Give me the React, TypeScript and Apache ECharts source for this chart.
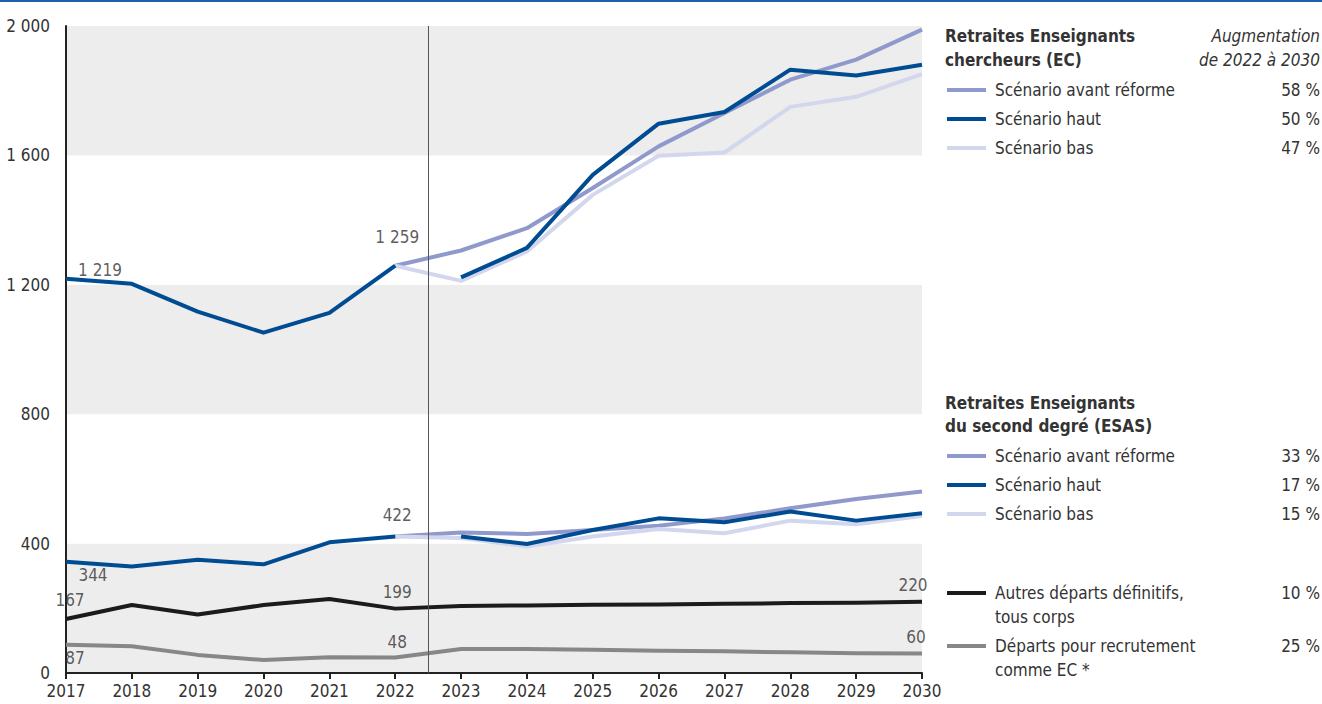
import React, { useEffect, useRef } from "react";
import * as echarts from "echarts";

const years = [2017, 2018, 2019, 2020, 2021, 2022, 2023, 2024, 2025, 2026, 2027, 2028, 2029, 2030];
const constatYears = years.slice(0, 6);
const forecastYears = years.slice(5);

// EC
const ecConstat = [1219, 1203, 1117, 1052, 1113, 1259];
const ecAvant = [1259, 1306, 1375, 1499, 1628, 1731, 1834, 1896, 1989];
const ecHaut = [1259, 1223, 1314, 1540, 1698, 1734, 1865, 1847, 1880];
const ecBas = [1259, 1212, 1303, 1478, 1599, 1609, 1750, 1781, 1851];
// ESAS
const esasConstat = [344, 329, 350, 336, 404, 422];
const esasAvant = [422, 434, 430, 442, 455, 478, 509, 538, 561];
const esasHaut = [422, 422, 399, 442, 478, 466, 499, 471, 494];
const esasBas = [422, 417, 391, 422, 445, 432, 471, 460, 485];
// others
const autres = [167, 210, 181, 210, 229, 199, 207, 209, 211, 212, 214, 216, 217, 220];
const recrutement = [87, 83, 56, 40, 49, 48, 74, 74, 72, 69, 67, 64, 61, 60];

const yTicks = [0, 400, 800, 1200, 1600, 2000];

const legendEC = ["Scénario avant réforme", "Scénario haut", "Scénario bas"];
const pctEC = ["58 %", "50 %", "47 %"];
const legendESAS = ["Scénario avant réforme", "Scénario haut", "Scénario bas"];
const pctESAS = ["33 %", "17 %", "15 %"];
const legendOther = [["Autres départs définitifs,", "tous corps"], ["Départs pour recrutement", "comme EC *"]];
const pctOther = ["10 %", "25 %"];

const C_HAUT = "#004c93";
const C_AVANT = "#8f99cb";
const C_BAS = "#d3d7ed";
const C_AUTRES = "#1b1b1b";
const C_RECR = "#878787";
const TXT = "#333333";
const FONT = "'Liberation Sans Narrow', 'DejaVu Sans Condensed', 'Roboto', sans-serif";

const fmt = (v: number) => {
  const s = String(Math.round(v));
  return s.replace(/\B(?=(\d{3})+(?!\d))/g, " ");
};

const pairs = (xs: number[], ys: number[]) => xs.map((x, i) => [x, ys[i]]);

export default function App() {
  const ref = useRef<HTMLDivElement>(null);
  useEffect(() => {
    document.body.style.margin = "0";
    const chart = echarts.init(ref.current!, undefined, { renderer: "svg" });

    const line = (name: string, data: number[][], color: string, z = 2) => ({
      name,
      type: "line",
      data,
      showSymbol: false,
      symbol: "none",
      z,
      lineStyle: { color, width: 4, join: "round" },
      emphasis: { disabled: true },
      silent: true,
    });

    const lbl = (x: number, y: number, dx: number, dy: number) => ({
      value: [x, y],
      label: { show: true, position: "inside", offset: [dx, dy], formatter: fmt(y) },
    });

    const labelData = [
      lbl(2017, ecConstat[0], 34, -9),
      lbl(2022, ecConstat[5], 2, -29),
      lbl(2017, esasConstat[0], 27, 13),
      lbl(2022, esasConstat[5], 2, -21),
      lbl(2017, autres[0], 4, -19),
      lbl(2022, autres[5], 2, -17),
      lbl(2030, autres[13], -9, -17),
      lbl(2017, recrutement[0], 9, 13),
      lbl(2022, recrutement[5], 2, -15),
      lbl(2030, recrutement[13], -6, -17),
    ];

    const t = (text: string, x: number, y: number, opts: any = {}) => ({
      type: "text",
      silent: true,
      style: {
        text,
        x,
        y,
        fill: TXT,
        fontFamily: FONT,
        fontSize: 17,
        textAlign: opts.align || "left",
        align: opts.align || "left",
        textVerticalAlign: "middle",
        verticalAlign: "middle",
        fontStyle: opts.italic ? "italic" : "normal",
        fontWeight: opts.bold ? "bold" : "normal",
        ...(opts.style || {}),
      },
    });
    const sample = (y: number, color: string) => ({
      type: "rect",
      silent: true,
      shape: { x: 947, y: y - 2, width: 39, height: 4 },
      style: { fill: color },
    });

    const g: any[] = [
      { type: "rect", silent: true, shape: { x: 0, y: 0, width: 1322, height: 2 }, style: { fill: "#1f5fae" } },
      t("Constat", 285, 91, { italic: true, align: "center", style: { fontSize: 18 } }),
      t("Prévisions", 596, 91, { italic: true, align: "center", style: { fontSize: 18 } }),
      t("Retraites Enseignants", 945, 36, { bold: true }),
      t("chercheurs (EC)", 945, 60, { bold: true }),
      t("Augmentation", 1320, 36, { italic: true, align: "right" }),
      t("de 2022 à 2030", 1320, 60, { italic: true, align: "right" }),
      t("Retraites Enseignants", 945, 403, { bold: true }),
      t("du second degré (ESAS)", 945, 426, { bold: true }),
    ];
    const ecY = [90, 119, 148];
    const esY = [456, 485, 514];
    const cols = [C_AVANT, C_HAUT, C_BAS];
    legendEC.forEach((s, i) => {
      g.push(sample(ecY[i], cols[i]));
      g.push(t(s, 995, ecY[i]));
      g.push(t(pctEC[i], 1320, ecY[i], { align: "right" }));
    });
    legendESAS.forEach((s, i) => {
      g.push(sample(esY[i], cols[i]));
      g.push(t(s, 995, esY[i]));
      g.push(t(pctESAS[i], 1320, esY[i], { align: "right" }));
    });
    const oY = [593, 646];
    const oC = [C_AUTRES, C_RECR];
    legendOther.forEach((lines, i) => {
      g.push(sample(oY[i], oC[i]));
      g.push(t(lines[0], 995, oY[i]));
      g.push(t(lines[1], 995, oY[i] + 24));
      g.push(t(pctOther[i], 1320, oY[i], { align: "right" }));
    });

    // the "haut" scenario is drawn from 2023 on, as in the source figure
    const hautYears = forecastYears.slice(1);

    chart.setOption({
      animation: false,
      textStyle: { fontFamily: FONT },
      grid: { left: 66, right: 400, top: 26, bottom: 31, containLabel: false },
      xAxis: {
        type: "value",
        min: 2017,
        max: 2030,
        interval: 1,
        axisLine: { show: true, lineStyle: { color: "#222", width: 2 } },
        axisTick: { show: true, length: 6, lineStyle: { color: "#222", width: 2 } },
        axisLabel: { color: TXT, fontSize: 17, fontFamily: FONT, margin: 9, formatter: (v: number) => String(v) },
        splitLine: { show: false },
      },
      yAxis: {
        type: "value",
        min: yTicks[0],
        max: yTicks[yTicks.length - 1],
        interval: 400,
        axisLine: { show: true, lineStyle: { color: "#222", width: 2 } },
        axisTick: { show: false },
        axisLabel: { color: TXT, fontSize: 17, fontFamily: FONT, margin: 16, formatter: (v: number) => fmt(v) },
        splitLine: { show: false },
        splitArea: { show: true, areaStyle: { color: ["#ededed", "#ffffff"] } },
      },
      graphic: g,
      series: [
        {
          ...line("Départs pour recrutement comme EC", pairs(years, recrutement), C_RECR, 2),
          markLine: {
            silent: true,
            symbol: "none",
            label: { show: false },
            lineStyle: { color: "#555", width: 1, type: "solid" },
            data: [{ xAxis: 2022.5 }],
          },
        },
        line("Autres départs définitifs, tous corps", pairs(years, autres), C_AUTRES, 2),
        line("ESAS avant réforme", pairs(forecastYears, esasAvant), C_AVANT, 3),
        line("ESAS bas", pairs(forecastYears, esasBas), C_BAS, 3),
        line("ESAS haut", pairs(hautYears, esasHaut.slice(1)), C_HAUT, 4),
        line("ESAS constat", pairs(constatYears, esasConstat), C_HAUT, 4),
        line("EC avant réforme", pairs(forecastYears, ecAvant), C_AVANT, 3),
        line("EC bas", pairs(forecastYears, ecBas), C_BAS, 3),
        line("EC haut", pairs(hautYears, ecHaut.slice(1)), C_HAUT, 4),
        line("EC constat", pairs(constatYears, ecConstat), C_HAUT, 4),
        {
          name: "labels",
          type: "scatter",
          data: labelData,
          symbol: "circle",
          symbolSize: 1,
          z: 10,
          silent: true,
          itemStyle: { color: "rgba(0,0,0,0)" },
          label: { color: TXT, fontSize: 17, fontFamily: FONT },
          emphasis: { disabled: true },
        },
      ],
    });
    return () => chart.dispose();
  }, []);
  return <div ref={ref} style={{ width: 1322, height: 704 }} />;
}
